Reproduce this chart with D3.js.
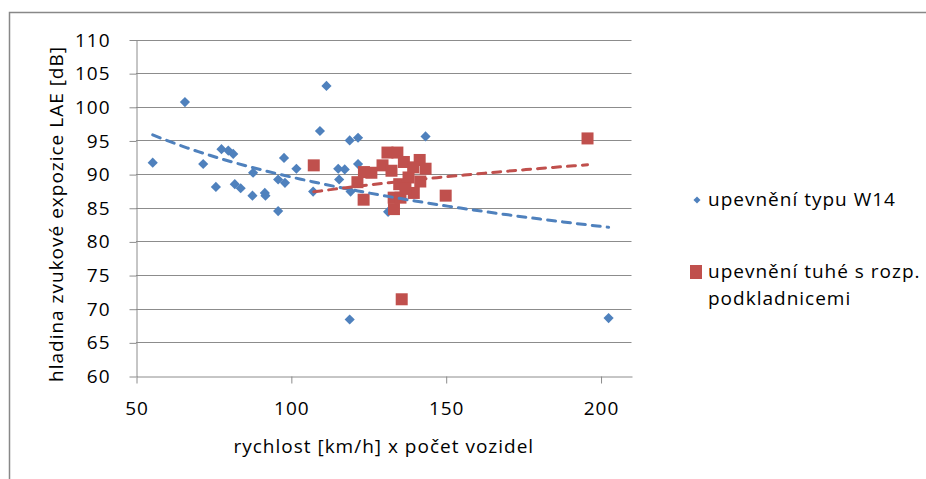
<!DOCTYPE html>
<html>
<head>
<meta charset="utf-8">
<script src="https://cdn.jsdelivr.net/npm/d3@7"></script>
<style>
  body { margin: 0; background: #fff; }
  text { font-family: "Open Sans", sans-serif; fill: #000; letter-spacing: 1px; }
</style>
</head>
<body>
<div id="chart"></div>
<script>
// data
const w14X = [55.4, 65.8, 111.5, 109.4, 119.0, 121.7, 77.6, 79.8, 81.4, 71.7, 97.8, 101.8, 87.8, 115.3, 117.4, 121.7,
  115.6, 95.9, 98.1, 75.8, 81.9, 83.8, 87.6, 91.6, 91.8, 95.9, 107.2, 119.3, 131.4, 143.5, 119.0, 202.6];
const w14Y = [91.7, 100.7, 103.1, 96.4, 95.0, 95.4, 93.7, 93.5, 93.0, 91.5, 92.4, 90.8, 90.2, 90.8, 90.7, 91.5,
  89.2, 89.2, 88.7, 88.1, 88.5, 87.9, 86.8, 87.2, 86.8, 84.5, 87.4, 87.4, 84.4, 95.6, 68.4, 68.6];

const tuheX = [107.4, 123.5, 121.5, 123.6, 129.6, 131.2, 134.4, 141.6, 143.5, 133.3, 150.0, 135.8, 195.8, 141.8,
  139.7, 133.2, 135.4, 132.5, 136.5, 138.0, 135.0, 139.5, 137.0, 126.0];
const tuheY = [91.3, 86.2, 88.8, 90.3, 91.3, 93.2, 93.2, 92.1, 90.8, 84.8, 86.8, 71.4, 95.3, 88.9,
  87.2, 86.5, 86.5, 90.5, 91.8, 89.5, 88.5, 91.0, 87.8, 90.2];

const seriesNames = ['upevnění typu W14', 'upevnění tuhé s rozp.', 'podkladnicemi'];
const xTicks = [50, 100, 150, 200];
const yTicks = [60, 65, 70, 75, 80, 85, 90, 95, 100, 105, 110];
const xTitle = 'rychlost [km/h] x počet vozidel';
const yTitle = 'hladina zvukové expozice LAE [dB]';

const WIDTH = 926;
const HEIGHT = 479;
const BLUE = '#4f81bd';
const RED = '#c0504d';
const GRID = '#8c8c8c';
const FS = 19;

const svg = d3.select('#chart').append('svg').attr('width', WIDTH).attr('height', HEIGHT);

// cadre du graphique
svg.append('rect')
  .attr('x', 9.5).attr('y', 12.5)
  .attr('width', 1000).attr('height', 1000)
  .attr('fill', 'none').attr('stroke', '#888').attr('stroke-width', 1.5);

const x = d3.scaleLinear().domain([50, 210]).range([136, 631.5]);
const y = d3.scaleLinear().domain([60, 110]).range([376, 39.5]);

// quadrillage horizontal
svg.append('g').selectAll('line')
  .data(yTicks.slice(1))
  .enter().append('line')
  .attr('x1', x(50)).attr('x2', x(210))
  .attr('y1', d => Math.round(y(d)) + 0.5).attr('y2', d => Math.round(y(d)) + 0.5)
  .attr('stroke', GRID).attr('stroke-width', 1);

// axe Y
const yAxis = svg.append('g')
  .attr('transform', `translate(${x(50) + 0.5},0.5)`)
  .call(d3.axisLeft(y).tickValues(yTicks).tickSize(7).tickSizeOuter(0).tickPadding(19));
yAxis.select('.domain').attr('stroke', GRID);
yAxis.selectAll('.tick line').attr('stroke', GRID);
yAxis.selectAll('.tick text').attr('font-size', FS).attr('font-family', '"Open Sans", sans-serif').attr('fill', '#000');

// axe X
const xAxis = svg.append('g')
  .attr('transform', `translate(0.5,${Math.round(y(60)) + 0.5})`)
  .call(d3.axisBottom(x).tickValues(xTicks).tickSize(7).tickSizeOuter(0).tickPadding(18));
xAxis.select('.domain').attr('stroke', GRID);
xAxis.selectAll('.tick line').attr('stroke', GRID);
xAxis.selectAll('.tick text').attr('font-size', FS).attr('font-family', '"Open Sans", sans-serif').attr('fill', '#000');

// titres des axes
svg.append('text')
  .attr('x', (x(50) + x(210)) / 2).attr('y', 453)
  .attr('text-anchor', 'middle').attr('font-size', FS)
  .text(xTitle);

svg.append('text')
  .attr('transform', 'translate(63,214) rotate(-90)')
  .attr('text-anchor', 'middle').attr('font-size', FS)
  .text(yTitle);

// points
const w14 = d3.zip(w14X, w14Y);
const tuhe = d3.zip(tuheX, tuheY);

svg.append('g').selectAll('path')
  .data(w14)
  .enter().append('path')
  .attr('d', d3.symbol(d3.symbolDiamond2, 66))
  .attr('transform', d => `translate(${x(d[0])},${y(d[1])})`)
  .attr('fill', BLUE);

svg.append('g').selectAll('rect')
  .data(tuhe)
  .enter().append('rect')
  .attr('x', d => x(d[0]) - 6).attr('y', d => y(d[1]) - 6)
  .attr('width', 12).attr('height', 12)
  .attr('fill', RED);

// courbes de tendance logarithmiques (moindres carrés sur ln x)
function logFit(xs, ys) {
  const lx = xs.map(Math.log);
  const mx = d3.mean(lx), my = d3.mean(ys);
  const a = d3.sum(lx, (v, i) => (v - mx) * (ys[i] - my)) / d3.sum(lx, v => (v - mx) * (v - mx));
  const b = my - a * mx;
  const [lo, hi] = d3.extent(xs);
  return d3.range(0, 41).map(i => {
    const xv = lo + (hi - lo) * i / 40;
    return [xv, a * Math.log(xv) + b];
  });
}

const line = d3.line().x(d => x(d[0])).y(d => y(d[1]));

svg.append('path')
  .attr('d', line(logFit(w14X, w14Y)))
  .attr('fill', 'none').attr('stroke', BLUE).attr('stroke-width', 3)
  .attr('stroke-dasharray', '8,7').attr('stroke-linecap', 'round');

svg.append('path')
  .attr('d', line(logFit(tuheX, tuheY)))
  .attr('fill', 'none').attr('stroke', RED).attr('stroke-width', 3)
  .attr('stroke-dasharray', '8,7').attr('stroke-linecap', 'round');

// légende
const legend = svg.append('g');
legend.append('path')
  .attr('d', d3.symbol(d3.symbolDiamond2, 32))
  .attr('transform', 'translate(697,200)')
  .attr('fill', BLUE);
legend.append('text')
  .attr('x', 708).attr('y', 206).attr('font-size', FS)
  .text(seriesNames[0]);

legend.append('rect')
  .attr('x', 690).attr('y', 265).attr('width', 12).attr('height', 14)
  .attr('fill', RED);
legend.append('text')
  .attr('x', 708).attr('y', 278).attr('font-size', FS)
  .text(seriesNames[1]);
legend.append('text')
  .attr('x', 708).attr('y', 305).attr('font-size', FS)
  .text(seriesNames[2]);
</script>
</body>
</html>
